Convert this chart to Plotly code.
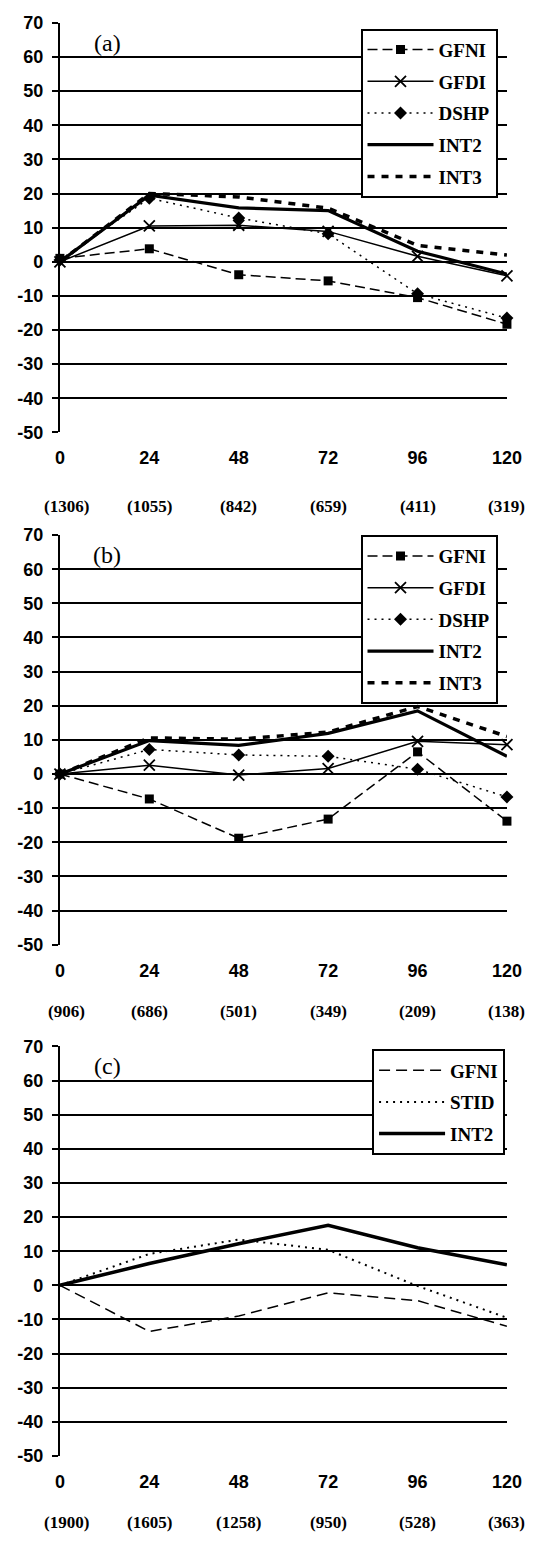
import plotly.graph_objects as go

# ---------------- data ----------------
hours = [0, 24, 48, 72, 96, 120]
hour_labels = ["0", "24", "48", "72", "96", "120"]
y_ticks = [70, 60, 50, 40, 30, 20, 10, 0, -10, -20, -30, -40, -50]

cases_a = ["(1306)", "(1055)", "(842)", "(659)", "(411)", "(319)"]
cases_b = ["(906)", "(686)", "(501)", "(349)", "(209)", "(138)"]
cases_c = ["(1900)", "(1605)", "(1258)", "(950)", "(528)", "(363)"]

a_gfni = [1.0, 3.8, -3.8, -5.6, -10.5, -18.3]
a_gfdi = [0.0, 10.5, 10.7, 8.9, 1.6, -4.1]
a_dshp = [0.5, 18.6, 12.8, 8.2, -9.4, -16.5]
a_int2 = [0.0, 19.5, 15.8, 15.0, 3.1, -3.6]
a_int3 = [0.0, 20.0, 19.0, 15.7, 4.8, 2.0]

b_gfni = [0.0, -7.3, -18.8, -13.2, 6.5, -13.8]
b_gfdi = [0.0, 2.6, -0.3, 1.6, 9.6, 8.6]
b_dshp = [0.0, 7.2, 5.6, 5.2, 1.4, -6.7]
b_int2 = [0.0, 9.8, 8.4, 11.9, 18.5, 5.2]
b_int3 = [0.0, 10.6, 10.2, 12.3, 19.8, 11.0]

c_gfni = [0.0, -13.5, -9.0, -2.2, -4.5, -12.0]
c_stid = [0.0, 9.2, 13.4, 10.4, -0.2, -9.5]
c_int2 = [0.0, 6.4, 12.2, 17.6, 11.0, 6.0]

panel_names = ["(a)", "(b)", "(c)"]

# ---------------- layout geometry (page pixels) ----------------
W, H = 547, 1542
plot_left, plot_right = 57, 521
panels_px = [(13, 428), (532, 947), (1050, 1465)]  # (top, bottom)
case_offsets = [75, 68, 67]
legend_pos = [(369, 19), (369, 532), (381, 1053)]

SANS = "Liberation Sans, Arial, sans-serif"
SERIF = "Liberation Serif, Times New Roman, serif"

def px_x(p):
    return p / W

def px_y(p):
    return 1 - p / H

fig = go.Figure()

styles = {
    "GFNI": dict(line=dict(color="black", width=1.5, dash="10px,5px"),
                 marker=dict(symbol="square", size=9, color="black"), mode="lines+markers"),
    "GFDI": dict(line=dict(color="black", width=1.5),
                 marker=dict(symbol="x-thin", size=11, color="black",
                             line=dict(color="black", width=1.8)), mode="lines+markers"),
    "DSHP": dict(line=dict(color="black", width=1.5, dash="2px,5px"),
                 marker=dict(symbol="diamond", size=10, color="black"), mode="lines+markers"),
    "INT2": dict(line=dict(color="black", width=3.2), mode="lines"),
    "INT3": dict(line=dict(color="black", width=3.5, dash="7px,7px"), mode="lines"),
}
styles_c = {
    "GFNI": dict(line=dict(color="black", width=1.5, dash="11px,6px"), mode="lines"),
    "STID": dict(line=dict(color="black", width=2, dash="2px,5px"), mode="lines"),
    "INT2": dict(line=dict(color="black", width=3.5), mode="lines"),
}

series = [
    [("GFNI", a_gfni), ("GFDI", a_gfdi), ("DSHP", a_dshp), ("INT2", a_int2), ("INT3", a_int3)],
    [("GFNI", b_gfni), ("GFDI", b_gfdi), ("DSHP", b_dshp), ("INT2", b_int2), ("INT3", b_int3)],
    [("GFNI", c_gfni), ("STID", c_stid), ("INT2", c_int2)],
]
all_cases = [cases_a, cases_b, cases_c]

legend_names = ["legend", "legend2", "legend3"]
annotations = []
layout_updates = {}

for i, (top, bottom) in enumerate(panels_px):
    sfx = "" if i == 0 else str(i + 1)
    xa, ya = "x" + sfx, "y" + sfx
    st = styles if i < 2 else styles_c
    for name, vals in series[i]:
        fig.add_trace(go.Scatter(
            x=hours, y=vals, name=name, xaxis=xa, yaxis=ya,
            legend=legend_names[i], legendgroup=f"{i}-{name}",
            cliponaxis=False, **st[name]))

    layout_updates["xaxis" + sfx] = dict(
        domain=[px_x(plot_left), px_x(plot_right)], anchor=ya,
        range=[0, 120], tickmode="array", tickvals=hours,
        ticktext=[f"<b>{t}</b>" for t in hour_labels],
        showgrid=False, zeroline=False, showline=False, ticks="",
        tickfont=dict(family=SANS, size=18, color="black"),
        ticklabelstandoff=13,
    )
    layout_updates["yaxis" + sfx] = dict(
        domain=[px_y(bottom), px_y(top)], anchor=xa,
        range=[-50, 70], tickmode="array", tickvals=y_ticks,
        ticktext=[f"<b>{t}</b>" for t in y_ticks],
        showgrid=True, gridcolor="black", gridwidth=2,
        zeroline=True, zerolinecolor="black", zerolinewidth=2,
        showline=True, linecolor="black", linewidth=2,
        ticks="outside", ticklen=6, tickwidth=2, tickcolor="black",
        tickfont=dict(family=SANS, size=18, color="black"),
        ticklabelstandoff=5,
    )
    # case counts beneath hours
    for k, (h, c) in enumerate(zip(hours, all_cases[i])):
        annotations.append(dict(
            x=h, y=px_y(bottom + case_offsets[i]), xref=xa, yref="paper",
            text=f"<b>{c}</b>", showarrow=False, xanchor="center", yanchor="middle",
            xshift=7 if k == 0 else 0,
            font=dict(family=SERIF, size=17, color="black")))
    # panel label
    annotations.append(dict(
        x=px_x(106), y=px_y(top + 20), xref="paper", yref="paper",
        text=panel_names[i], showarrow=False, xanchor="center", yanchor="middle",
        font=dict(family=SERIF, size=24, color="black")))
    lx, ly = legend_pos[i]
    layout_updates[legend_names[i]] = dict(
        x=px_x(lx), y=px_y(ly), xanchor="left", yanchor="top",
        bgcolor="white", bordercolor="black", borderwidth=2,
        font=dict(family=SERIF, size=19, color="black", weight="bold"),
        tracegroupgap=4, itemwidth=66, traceorder="grouped",
    )

fig.update_layout(
    width=W, height=H,
    margin=dict(l=0, r=0, t=0, b=0, pad=0),
    paper_bgcolor="white", plot_bgcolor="white",
    showlegend=True,
    annotations=annotations,
    **layout_updates,
)

fig.write_html("out.html", config={"displayModeBar": False},
               post_script="document.body.style.margin='0';")
